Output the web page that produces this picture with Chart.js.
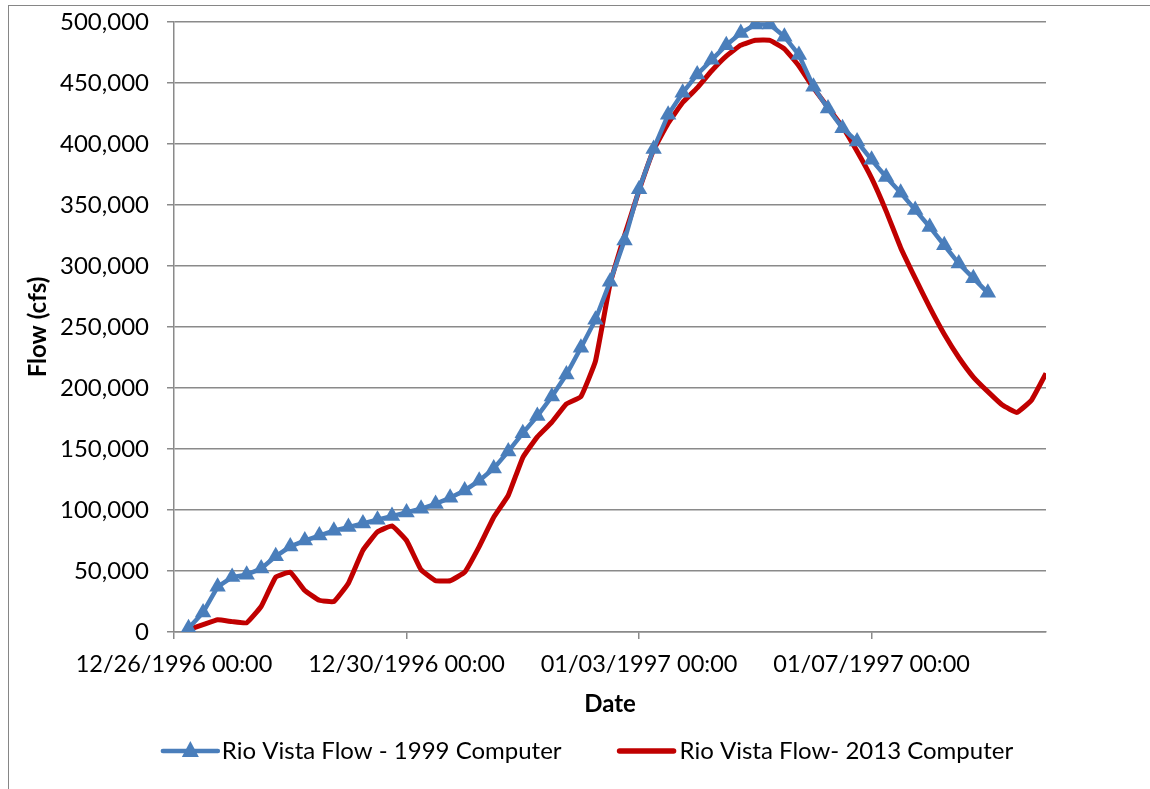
<!DOCTYPE html>
<html>
<head>
<meta charset="utf-8">
<script src="https://cdn.jsdelivr.net/npm/chart.js@4.4.0/dist/chart.umd.min.js"></script>
<style>
  html, body { margin: 0; padding: 0; background: #fff; overflow: hidden; }
  #wrap { position: relative; width: 1150px; height: 789px; overflow: hidden; }
  #frame { position: absolute; left: 8px; top: 5px; width: 1200px; height: 900px; border: 1px solid #868686; }
  canvas { position: absolute; left: 0; top: 0; }
</style>
</head>
<body>
<div id="wrap">
  <div id="frame"></div>
  <canvas id="flowChart" width="1150" height="789"></canvas>
</div>
<script>
// hours after 12/26/1996 00:00
const hours1999 = [6, 12, 18, 24, 30, 36, 42, 48, 54, 60, 66, 72, 78, 84, 90, 96, 102, 108, 114, 120,
  126, 132, 138, 144, 150, 156, 162, 168, 174, 180, 186, 192, 198, 204, 210, 216, 222, 228, 234, 240,
  246, 252, 258, 264, 270, 276, 282, 288, 294, 300, 306, 312, 318, 324, 330, 336];
const flow1999 = [3000, 16000, 37000, 45000, 47000, 52000, 62000, 70000, 75000, 79000, 83000, 86000,
  89000, 92000, 95000, 98000, 101000, 105000, 110000, 116000, 124000, 134000, 148000, 163000, 177000,
  193000, 211000, 233000, 256000, 287000, 321000, 363000, 396000, 424000, 442000, 457000, 469000,
  481000, 491000, 498000, 498000, 488000, 473000, 447000, 429000, 413000, 402000, 387000, 373000,
  360000, 346000, 332000, 317000, 302000, 290000, 278000];

const hours2013 = [6, 12, 18, 24, 30, 36, 42, 48, 54, 60, 66, 72, 78, 84, 90, 96, 102, 108, 114, 120,
  126, 132, 138, 144, 150, 156, 162, 168, 174, 180, 186, 192, 198, 204, 210, 216, 222, 228, 234, 240,
  246, 252, 258, 264, 270, 276, 282, 288, 294, 300, 306, 312, 318, 324, 330, 336, 342, 348, 354, 360];
const flow2013 = [2000, 6000, 10000, 8500, 7500, 21000, 45000, 49000, 34000, 26000, 25000, 40000,
  67000, 82000, 87000, 75000, 51000, 42000, 42000, 49000, 70000, 94000, 112000, 143000, 160000,
  172000, 187000, 193000, 222000, 285000, 325000, 362000, 395000, 417000, 434000, 446000, 460000,
  472000, 481000, 485000, 485000, 478000, 464000, 446000, 430000, 414000, 394000, 372000, 345000,
  315000, 290000, 266000, 244000, 225000, 209000, 197000, 186000, 180000, 190000, 212000];

const tickHours = [0, 96, 192, 288];
const tickLabels = ["12/26/1996 00:00", "12/30/1996 00:00", "01/03/1997 00:00", "01/07/1997 00:00"];

const seriesNames = ["Rio Vista Flow - 1999 Computer", "Rio Vista Flow- 2013 Computer"];
const BLUE = "#4a7ebb";
const RED = "#c00000";
const GRID = "#8a8a8a";
const FONT = "Lato, 'Open Sans', sans-serif";

function toPoints(xs, ys) {
  return xs.map((x, i) => ({ x: x, y: ys[i] }));
}

// legend drawn under the axis title, like the spreadsheet one
const legendPlugin = {
  id: "bottomLegend",
  afterDraw(chart) {
    const ctx = chart.ctx;
    const y = 751;
    ctx.save();
    ctx.font = "24px " + FONT;
    ctx.textBaseline = "middle";
    ctx.fillStyle = "#000";
    const w1 = 55 + 4 + ctx.measureText(seriesNames[0]).width;
    const w2 = 54 + 6 + ctx.measureText(seriesNames[1]).width;
    const gap = 58;
    let x = 588 - (w1 + gap + w2) / 2;

    ctx.strokeStyle = BLUE;
    ctx.lineWidth = 4.5;
    ctx.lineCap = "round";
    ctx.beginPath();
    ctx.moveTo(x, y);
    ctx.lineTo(x + 55, y);
    ctx.stroke();
    ctx.fillStyle = BLUE;
    ctx.beginPath();
    ctx.moveTo(x + 27.5, y - 10);
    ctx.lineTo(x + 36, y + 6);
    ctx.lineTo(x + 19, y + 6);
    ctx.closePath();
    ctx.fill();
    ctx.fillStyle = "#000";
    ctx.fillText(seriesNames[0], x + 59, y);

    x += w1 + gap;
    ctx.strokeStyle = RED;
    ctx.lineWidth = 5.5;
    ctx.beginPath();
    ctx.moveTo(x, y);
    ctx.lineTo(x + 54, y);
    ctx.stroke();
    ctx.fillText(seriesNames[1], x + 60, y);
    ctx.restore();
  }
};

new Chart(document.getElementById("flowChart"), {
  type: "line",
  data: {
    datasets: [
      {
        label: seriesNames[0],
        data: toPoints(hours1999, flow1999),
        borderColor: BLUE,
        backgroundColor: BLUE,
        borderWidth: 4.5,
        pointStyle: "triangle",
        pointRadius: 9.5,
        pointBorderWidth: 0,
        pointBackgroundColor: BLUE,
        tension: 0
      },
      {
        label: seriesNames[1],
        data: toPoints(hours2013, flow2013),
        borderColor: RED,
        backgroundColor: RED,
        borderWidth: 5,
        pointRadius: 0,
        tension: 0.1
      }
    ]
  },
  options: {
    responsive: false,
    animation: false,
    layout: { padding: { left: 0, right: 104, top: 22, bottom: 67 } },
    plugins: {
      legend: { display: false },
      tooltip: { enabled: false }
    },
    scales: {
      x: {
        type: "linear",
        min: 0,
        max: 360,
        afterBuildTicks: scale => { scale.ticks = tickHours.map(v => ({ value: v })); },
        afterFit: scale => { scale.height = 90; },
        ticks: {
          autoSkip: false,
          maxRotation: 0,
          padding: 11,
          color: "#000",
          font: { family: FONT, size: 23.5 },
          callback: v => tickLabels[tickHours.indexOf(v)] ?? ""
        },
        grid: { drawOnChartArea: false, drawTicks: true, tickLength: 7, color: GRID, lineWidth: 1.5 },
        border: { color: GRID, width: 1.5 },
        title: {
          display: true,
          text: "Date",
          color: "#000",
          font: { family: FONT, size: 24, weight: "bold" },
          padding: { top: 4, bottom: 3 }
        }
      },
      y: {
        min: 0,
        max: 500000,
        afterFit: scale => {
          scale.width = 174;
          scale.paddingTop = 0;
          scale.paddingBottom = 0;
        },
        ticks: {
          stepSize: 50000,
          padding: 18,
          color: "#000",
          font: { family: FONT, size: 24 },
          callback: v => v.toLocaleString("en-US")
        },
        grid: { color: GRID, lineWidth: 1.5, tickLength: 7 },
        border: { color: GRID, width: 1.5 },
        title: {
          display: true,
          text: "Flow (cfs)",
          color: "#000",
          font: { family: FONT, size: 24, weight: "bold" },
          padding: { top: 24, bottom: 0 }
        }
      }
    }
  },
  plugins: [legendPlugin]
});
</script>
</body>
</html>
